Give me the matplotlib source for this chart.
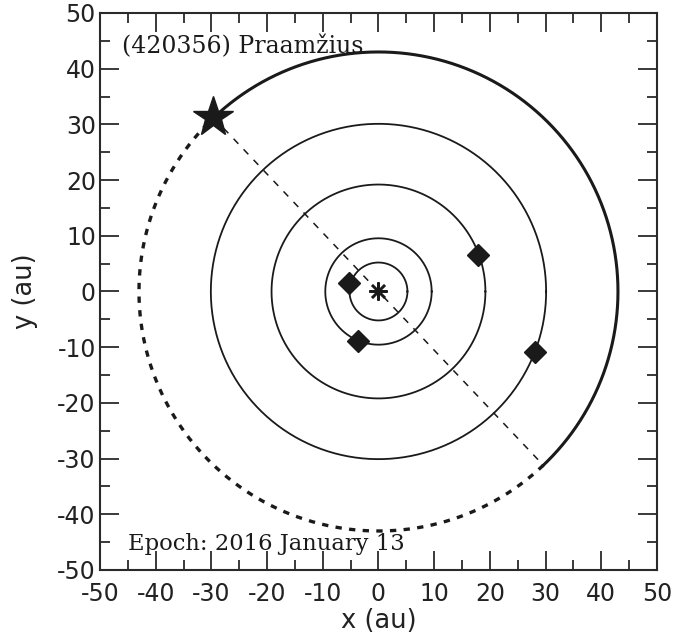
import numpy as np
import matplotlib.pyplot as plt

plt.rcParams["axes.unicode_minus"] = False

# planet orbits (radius in au) and positions at epoch
planet_names = ["Jupiter", "Saturn", "Uranus", "Neptune"]
planet_a = [5.2, 9.55, 19.2, 30.1]
planet_x = [-5.3, -3.7, 17.9, 28.1]
planet_y = [1.5, -8.9, 6.6, -10.9]

# Praamzius: near-circular orbit
obj_a = 43.0
obj_pos = (-29.7, 31.3)          # position at epoch
node_deg = 133.5                  # ascending node direction (deg)

title_txt = "(420356) Praamžius"
epoch_txt = "Epoch: 2016 January 13"

fig = plt.figure(figsize=(6.77, 6.39), dpi=100)
ax = fig.add_axes([0.1477, 0.108, 0.8227, 0.8717])

ink = "#1a1a1a"

th = np.linspace(0, 2 * np.pi, 600)
for a in planet_a:
    ax.plot(a * np.cos(th), a * np.sin(th), color=ink, lw=1.3)

n = np.radians(node_deg)
# solid arc above the ecliptic, dotted below
t_up = np.linspace(n, n - np.pi, 400)
ax.plot(obj_a * np.cos(t_up), obj_a * np.sin(t_up), color=ink, lw=2.2)
t_dn = np.linspace(n - np.pi, n - 2 * np.pi, 400)
ax.plot(obj_a * np.cos(t_dn), obj_a * np.sin(t_dn), color=ink, lw=2.4,
        linestyle=(0, (1.9, 2.2)))

# line of nodes
ax.plot([obj_a * np.cos(n), obj_a * np.cos(n - np.pi)],
        [obj_a * np.sin(n), obj_a * np.sin(n - np.pi)],
        color=ink, lw=1.1, linestyle=(0, (4.5, 5)))

ax.plot(planet_x, planet_y, "D", color=ink, ms=11, mec=ink)
ax.plot(0, 0, marker=(8, 2, 0), color=ink, ms=13, mew=1.8)
ax.plot(*obj_pos, marker="*", color=ink, ms=30, mec=ink)

ax.text(-46.0, 42.8, title_txt, family="DejaVu Serif", fontsize=17, color=ink)
ax.text(-45.0, -46.4, epoch_txt, family="DejaVu Serif", fontsize=16.3, color=ink)

ax.set_xlim(-50, 50)
ax.set_ylim(-50, 50)
ax.set_xticks(np.arange(-50, 51, 10))
ax.set_yticks(np.arange(-50, 51, 10))
ax.set_xticks(np.arange(-45, 50, 10), minor=True)
ax.set_yticks(np.arange(-45, 50, 10), minor=True)
ax.tick_params(which="both", direction="in", top=True, right=True,
               color="#2a2a2a", width=1.3, labelsize=17, labelcolor="#222222")
ax.tick_params(which="major", length=13.5)
ax.tick_params(axis="x", which="major", pad=9)
ax.tick_params(axis="y", which="major", pad=3)
ax.tick_params(which="minor", length=7)
for s in ax.spines.values():
    s.set_linewidth(1.5)
    s.set_color("#2a2a2a")

ax.set_xlabel("x (au)", fontsize=18.5, color="#222222", labelpad=1)
ax.set_ylabel("y (au)", fontsize=18.5, color="#222222", labelpad=14)

fig.savefig("out.png", dpi=100)
